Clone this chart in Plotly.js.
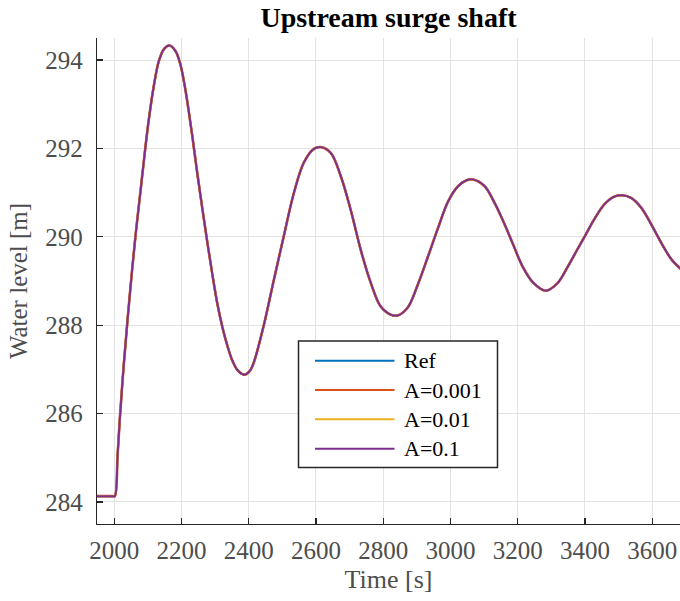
<!DOCTYPE html>
<html>
<head>
<meta charset="utf-8">
<script src="https://cdn.plot.ly/plotly-3.0.1.min.js"></script>
<style>html,body{margin:0;padding:0;background:#fff;}#chart{width:680px;height:601px;}</style>
</head>
<body>
<div id="chart"></div>
<script>
// ---- data ----
var seriesNames = ["Ref", "A=0.001", "A=0.01", "A=0.1"];
var seriesColors = ["#0072BD", "#D95319", "#EDB120", "#7E2F8E"];

var timeS = [1949, 1980, 1996, 2002, 2010, 2017, 2027, 2039, 2054, 2066, 2079, 2091, 2103, 2118, 2133, 2148, 2164,
  2182, 2197, 2212, 2232, 2247, 2262, 2277, 2292, 2306, 2323, 2338, 2353, 2368, 2388, 2403, 2415, 2445, 2475,
  2504, 2534, 2564, 2594, 2615, 2644, 2674, 2703, 2733, 2763, 2792, 2822, 2843, 2873, 2903, 2933, 2963, 2993,
  3023, 3048, 3066, 3101, 3131, 3160, 3185, 3215, 3245, 3283, 3317, 3347, 3377, 3400, 3427, 3457, 3487, 3512,
  3537, 3567, 3600, 3627, 3657, 3687];

// all four runs coincide in the picture
var levelRef = [284.13, 284.13, 284.13, 284.13, 285.03, 285.9, 286.95, 288.05, 289.3, 290.2, 291.08, 291.9,
  292.65, 293.42, 293.98, 294.25, 294.33, 294.21, 293.9, 293.32, 292.3, 291.45, 290.65, 289.88, 289.15, 288.52,
  287.92, 287.5, 287.17, 286.97, 286.88, 286.96, 287.15, 288.0, 289.03, 290.0, 290.98, 291.68, 291.99, 292.03,
  291.9, 291.37, 290.62, 289.71, 288.96, 288.43, 288.24, 288.22, 288.4, 288.92, 289.55, 290.2, 290.8, 291.15,
  291.28, 291.3, 291.15, 290.77, 290.3, 289.85, 289.32, 288.97, 288.78, 288.94, 289.3, 289.71, 290.02, 290.39,
  290.73, 290.91, 290.94, 290.88, 290.66, 290.24, 289.86, 289.49, 289.26];
var levelA001 = levelRef.slice();
var levelA01 = levelRef.slice();
var levelA1 = levelRef.slice();
var seriesLevels = [levelRef, levelA001, levelA01, levelA1];

var xTicks = [2000, 2200, 2400, 2600, 2800, 3000, 3200, 3400, 3600];
var yTicks = [284, 286, 288, 290, 292, 294];

// ---- layout geometry ----
var W = 680, H = 601;
var mL = 97, mR = 0, mT = 38, mB = 77;
var pw = W - mL - mR, ph = H - mT - mB;
function px(x) { return (x - mL) / pw; }
function py(y) { return (H - mB - y) / ph; }

var serif = "Liberation Serif, Times New Roman, serif";
var axisCol = "#262626";
var tickTextCol = "#4d4d4d";
var lineWidths = [2, 2.6, 2, 2];

var traces = seriesNames.map(function (n, i) {
  return {
    x: timeS, y: seriesLevels[i], name: n, type: "scatter", mode: "lines",
    line: { color: seriesColors[i], width: lineWidths[i], shape: "spline", smoothing: 1 },
    showlegend: false, hoverinfo: "skip"
  };
});

// custom legend (box + sample lines + labels)
var shapes = [{
  type: "rect", xref: "paper", yref: "paper",
  x0: px(298.5), x1: px(497.5), y0: py(467.5), y1: py(341),
  fillcolor: "#ffffff", line: { color: axisCol, width: 1.5 }, layer: "above"
}];
var annotations = [];
var rowY = [360.7, 390, 419.3, 448.7];
seriesNames.forEach(function (n, i) {
  shapes.push({
    type: "line", xref: "paper", yref: "paper",
    x0: px(315), x1: px(394.5), y0: py(rowY[i]), y1: py(rowY[i]),
    line: { color: seriesColors[i], width: 2 }, layer: "above"
  });
  annotations.push({
    xref: "paper", yref: "paper", x: px(402), y: py(rowY[i]),
    xanchor: "left", yanchor: "middle", showarrow: false, text: n,
    font: { family: serif, size: 22, color: "#000000" }
  });
});

var layout = {
  width: W, height: H,
  margin: { l: mL, r: mR, t: mT, b: mB, pad: 0 },
  paper_bgcolor: "#ffffff", plot_bgcolor: "#ffffff",
  showlegend: false,
  title: {
    text: "<b>Upstream surge shaft</b>",
    font: { family: serif, size: 28, color: "#000000" },
    x: 0.5, xref: "paper", xanchor: "center",
    y: 1 - 17 / H, yref: "container", yanchor: "middle"
  },
  xaxis: {
    range: [1949, 3682.5], tickvals: xTicks, ticktext: xTicks.map(String),
    showgrid: true, gridcolor: "#e3e3e3", gridwidth: 1, zeroline: false,
    showline: true, linecolor: axisCol, linewidth: 1.2,
    ticks: "inside", ticklen: 6, tickwidth: 1.2, tickcolor: axisCol,
    tickfont: { family: serif, size: 25, color: tickTextCol },
    ticklabelstandoff: 4,
    title: { text: "Time [s]", font: { family: serif, size: 26, color: tickTextCol }, standoff: 6 },
    automargin: false
  },
  yaxis: {
    range: [283.5, 294.5], tickvals: yTicks, ticktext: yTicks.map(String),
    showgrid: true, gridcolor: "#e3e3e3", gridwidth: 1, zeroline: false,
    showline: true, linecolor: axisCol, linewidth: 1.2,
    ticks: "inside", ticklen: 6, tickwidth: 1.2, tickcolor: axisCol,
    tickfont: { family: serif, size: 25, color: tickTextCol },
    ticklabelstandoff: 8,
    title: { text: "Water level [m]", font: { family: serif, size: 25, color: tickTextCol }, standoff: 10 },
    automargin: false
  },
  shapes: shapes,
  annotations: annotations
};

Plotly.newPlot("chart", traces, layout, { staticPlot: true, displayModeBar: false });
</script>
</body>
</html>
